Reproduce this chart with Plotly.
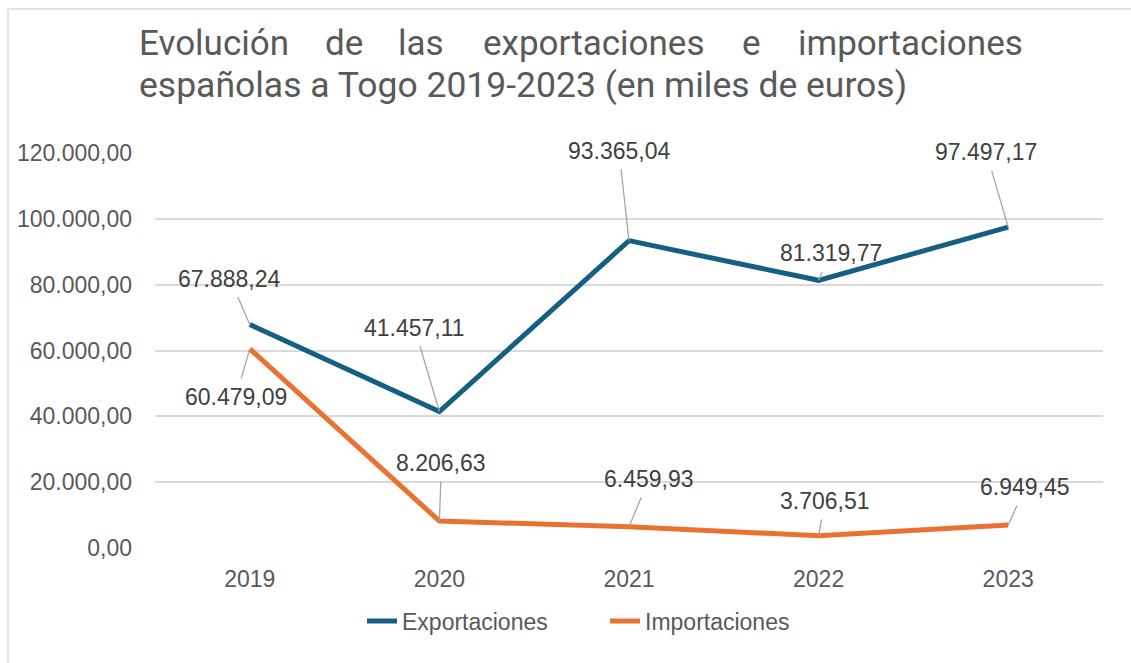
import plotly.graph_objects as go

# ---- data ----
years = ["2019", "2020", "2021", "2022", "2023"]
exportaciones = [67888.24, 41457.11, 93365.04, 81319.77, 97497.17]
importaciones = [60479.09, 8206.63, 6459.93, 3706.51, 6949.45]
y_ticks = [0, 20000, 40000, 60000, 80000, 100000, 120000]
title_line1_words = ["Evolución", "de", "las", "exportaciones", "e", "importaciones"]
title_line2 = "españolas a Togo 2019-2023 (en miles de euros)"

# ---- layout constants (pixels) ----
W, H = 1131, 663
L, R, T, B = 155, 28, 153, 115
PW, PH = W - L - R, H - T - B

def px_x(p):
    return (p - L) / PW

def px_y(p):
    return (H - B - p) / PH

def fmt(v):
    s = f"{v:,.2f}"
    return s.replace(",", "X").replace(".", ",").replace("X", ".")

C_EXP = "#156082"
C_IMP = "#E97132"
FONT = "Liberation Sans, Arial"

fig = go.Figure()
fig.add_trace(go.Scatter(x=years, y=exportaciones, mode="lines", name="Exportaciones",
                         line=dict(color=C_EXP, width=5)))
fig.add_trace(go.Scatter(x=years, y=importaciones, mode="lines", name="Importaciones",
                         line=dict(color=C_IMP, width=5)))

annotations = []
# data labels with leader lines (offsets in pixels)
exp_off = [(-20, -46), (-25, -84), (-10, -90), (12, -27), (-22, -75)]
imp_off = [(-14, 48), (2, -58), (20, -48), (6, -35), (17, -38)]
for series, offs in ((exportaciones, exp_off), (importaciones, imp_off)):
    for i, (yv, (ax, ay)) in enumerate(zip(series, offs)):
        annotations.append(dict(
            x=i, y=yv, xref="x", yref="y", text=fmt(yv),
            showarrow=True, arrowhead=0, arrowwidth=1.3, arrowcolor="#a6a6a6",
            ax=ax, ay=ay, borderpad=5, standoff=0,
            font=dict(family=FONT, size=23, color="#404040"),
        ))

# title: justified first line, words placed individually
word_centers = [214, 343.5, 421, 593.5, 751, 910]
for w, cx in zip(title_line1_words, word_centers):
    annotations.append(dict(
        x=px_x(cx), y=px_y(43), xref="paper", yref="paper", text=w,
        showarrow=False, xanchor="center", yanchor="middle",
        font=dict(family="Roboto", size=35, color="#595959"),
    ))
annotations.append(dict(
    x=px_x(137), y=px_y(85), xref="paper", yref="paper", text=title_line2,
    showarrow=False, xanchor="left", yanchor="middle",
    font=dict(family="Roboto", size=35.5, color="#595959"),
))

shapes = [
    dict(type="line", xref="paper", yref="paper", x0=px_x(8), x1=px_x(8), y0=px_y(9), y1=px_y(H + 5),
         line=dict(color="#d9d9d9", width=1.5)),
    dict(type="line", xref="paper", yref="paper", x0=px_x(8), x1=px_x(W + 5), y0=px_y(9), y1=px_y(9),
         line=dict(color="#d9d9d9", width=1.5)),
]

fig.update_layout(
    width=W, height=H, autosize=False,
    margin=dict(l=L, r=R, t=T, b=B, pad=0),
    paper_bgcolor="white", plot_bgcolor="white",
    separators=",.",
    showlegend=True,
    legend=dict(orientation="h", x=px_x(605), y=px_y(621), xanchor="center", yanchor="middle",
                font=dict(family=FONT, size=23, color="#595959"),
                entrywidth=198, entrywidthmode="pixels", tracegroupgap=0),
    annotations=annotations,
    shapes=shapes,
    xaxis=dict(type="category", range=[-0.5, 4.5], showgrid=False, zeroline=False,
               showline=False, ticks="", ticklabelstandoff=15,
               tickfont=dict(family=FONT, size=23, color="#595959")),
    yaxis=dict(range=[0, 120000], tickvals=y_ticks, tickformat=",.2f",
               showgrid=True, gridcolor="#d9d9d9", gridwidth=1.5, zeroline=False,
               showline=False, ticks="", ticklabelstandoff=22,
               tickfont=dict(family=FONT, size=23, color="#595959")),
)

fig.write_html("out.html", config={"displayModeBar": False},
               post_script="document.body.style.margin='0';document.body.style.padding='0';")
